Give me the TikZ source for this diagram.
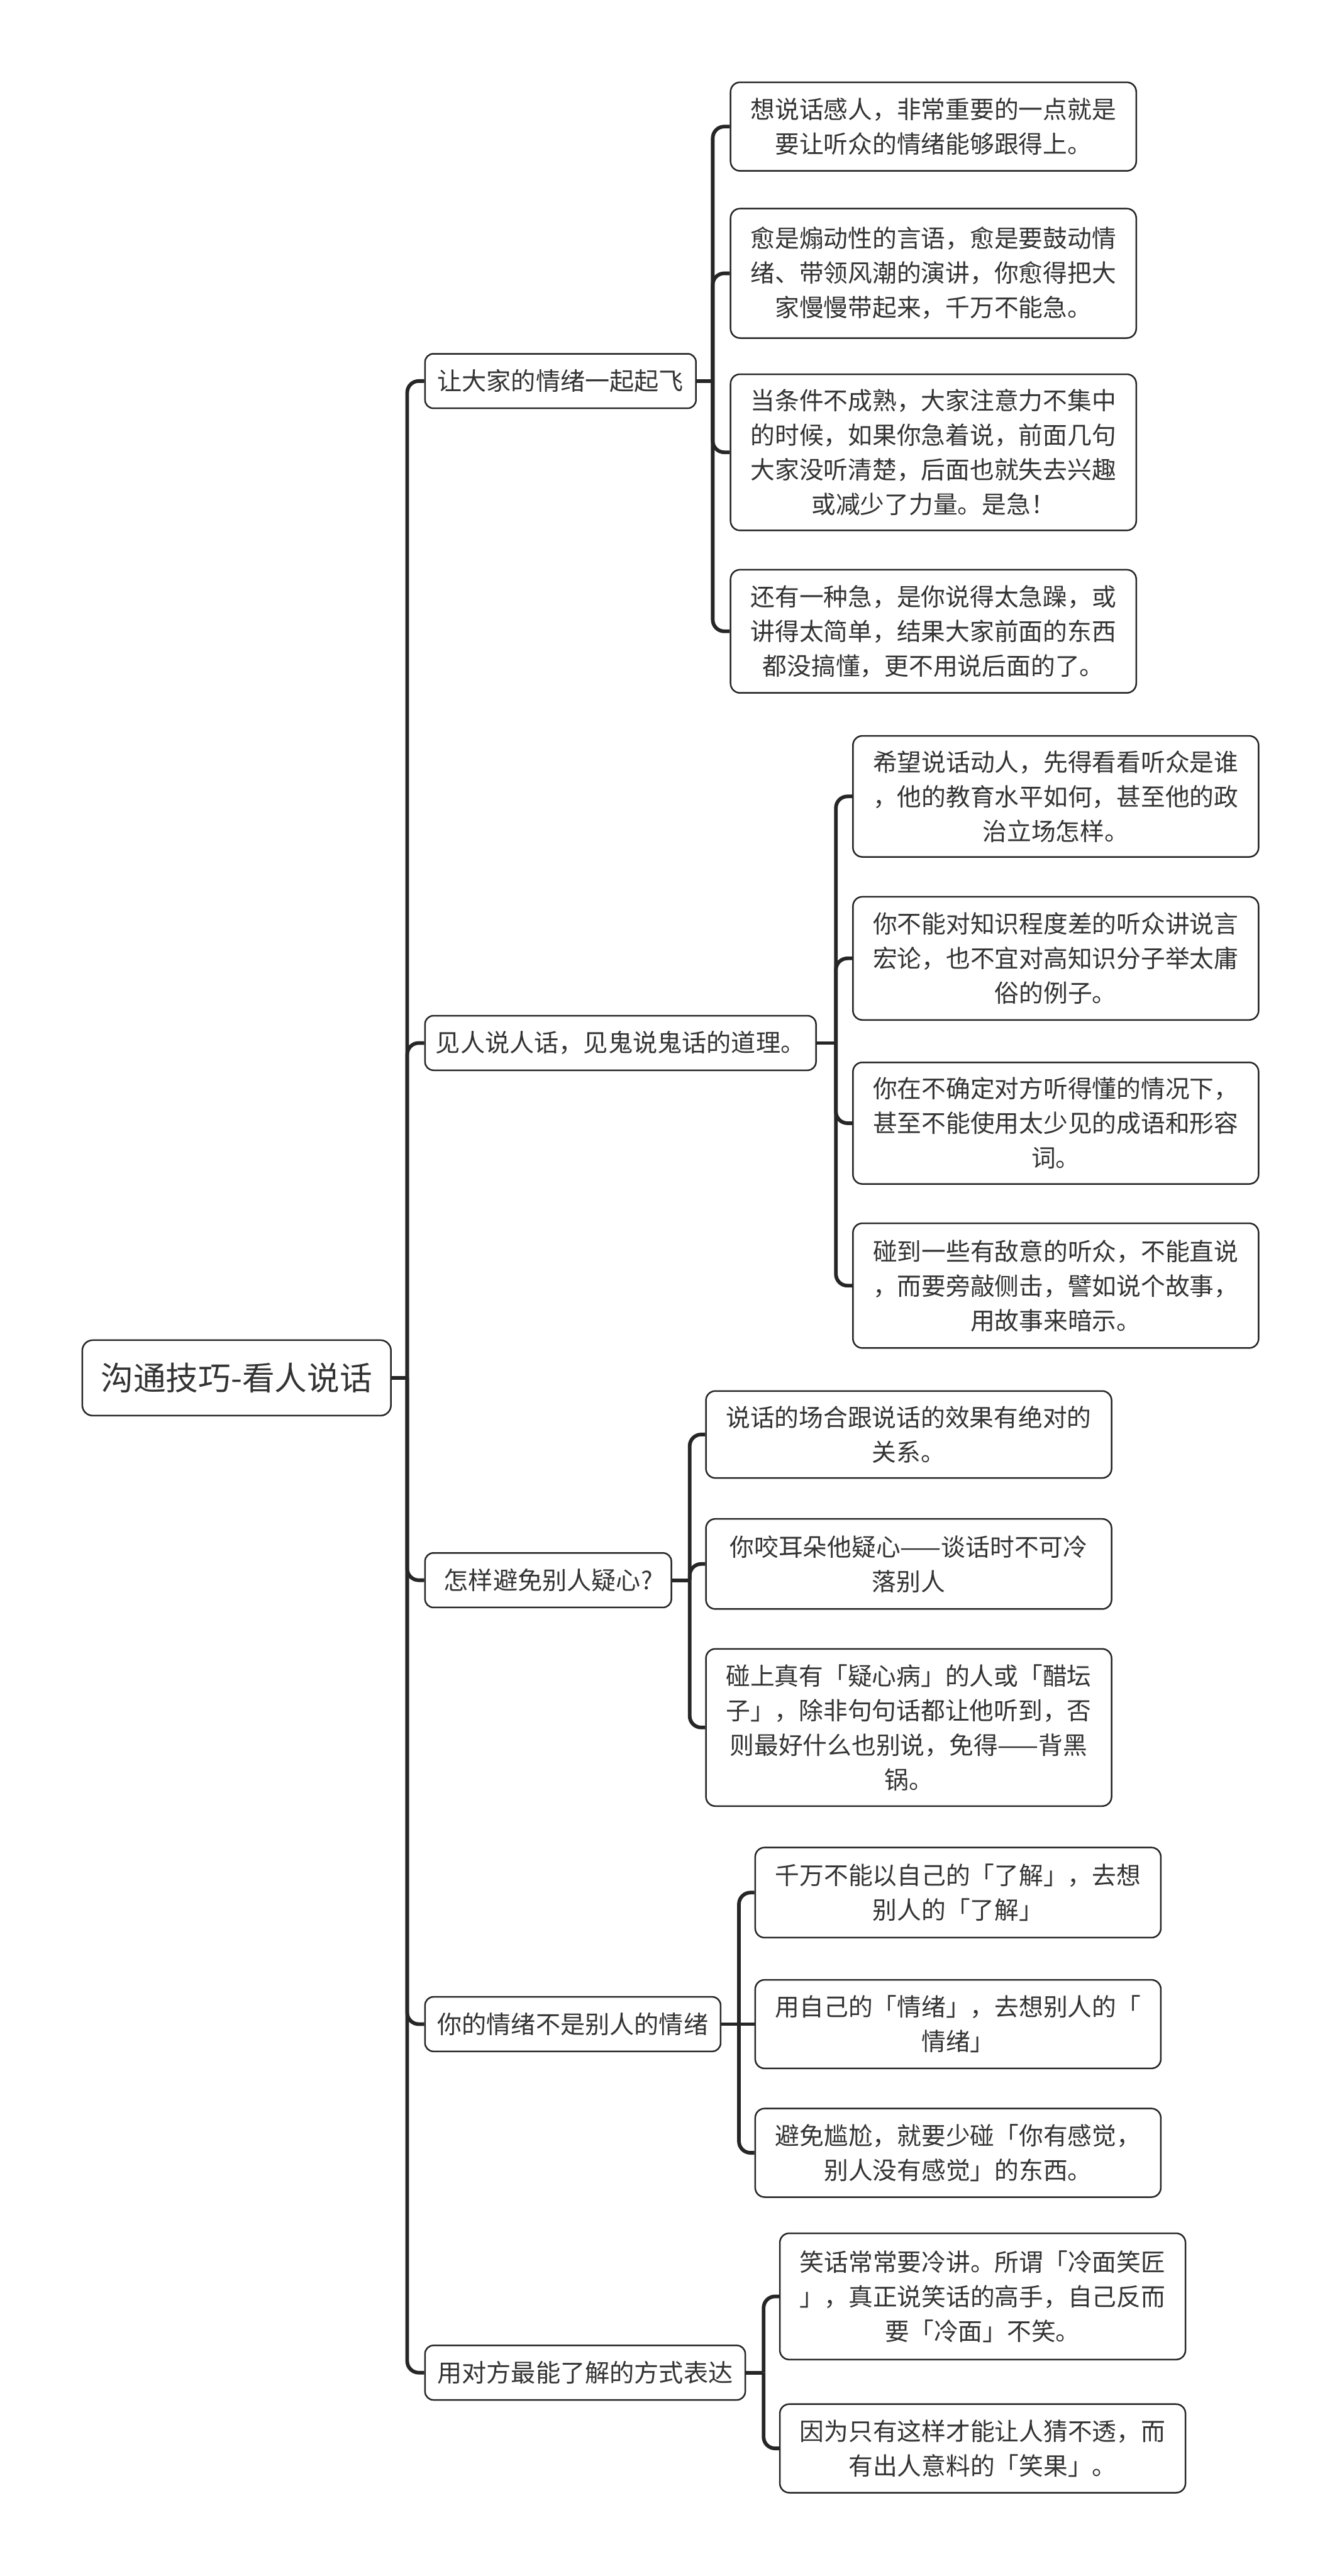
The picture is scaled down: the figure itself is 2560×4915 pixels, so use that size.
\documentclass[tikz,border=0pt]{standalone}
\usepackage{fontspec}
\setmainfont{Noto Sans CJK SC}
\definecolor{ln}{HTML}{333333}
\definecolor{cn}{HTML}{262626}
\begin{document}
\begin{tikzpicture}[x=1pt,y=-1pt,
  conn/.style={draw=cn, line width=7pt, rounded corners=22pt},
  box/.style={draw=cn, fill=white, line width=3pt, text=ln, align=center, inner sep=0pt},
  rootbox/.style={box, rounded corners=20pt, font=\fontsize{62}{74}\selectfont, minimum width=589pt, minimum height=144pt},
  lone/.style={box, rounded corners=16pt, font=\fontsize{47}{60}\selectfont, minimum height=104pt},
  leaf/.style={box, rounded corners=18pt, font=\fontsize{46.5}{66}\selectfont, minimum width=774pt}]
\fill[white] (0,0) rectangle (2560,4915);
\useasboundingbox (0,0) rectangle (2560,4915);

% root and level 1
\node[rootbox] (root) at (451.5,2629) {沟通技巧-看人说话};
\node[lone, minimum width=517pt] (A) at (1069.5,727) {让大家的情绪一起起飞};
\node[lone, minimum width=746pt] (B) at (1184,1990) {见人说人话，见鬼说鬼话的道理。};
\node[lone, minimum width=470pt] (C) at (1046,3015) {怎样避免别人疑心?};
\node[lone, minimum width=564pt] (D) at (1093,3862) {你的情绪不是别人的情绪};
\node[lone, minimum width=611pt] (E) at (1116.5,4527) {用对方最能了解的方式表达};

% group A
\node[leaf, minimum height=169pt] (a1) at (1781,241.5) {想说话感人，非常重要的一点就是\\要让听众的情绪能够跟得上。};
\node[leaf, minimum height=247pt] (a2) at (1781,521.5) {愈是煽动性的言语，愈是要鼓动情\\绪、带领风潮的演讲，你愈得把大\\家慢慢带起来，千万不能急。};
\node[leaf, minimum height=298pt] (a3) at (1781,863) {当条件不成熟，大家注意力不集中\\的时候，如果你急着说，前面几句\\大家没听清楚，后面也就失去兴趣\\或减少了力量。是急！};
\node[leaf, minimum height=235pt] (a4) at (1781,1204.5) {还有一种急，是你说得太急躁，或\\讲得太简单，结果大家前面的东西\\都没搞懂，更不用说后面的了。};

% group B
\node[leaf, minimum height=231pt] (b1) at (2014.5,1519.5) {希望说话动人，先得看看听众是谁\\，他的教育水平如何，甚至他的政\\治立场怎样。};
\node[leaf, minimum height=235pt] (b2) at (2014.5,1828.5) {你不能对知识程度差的听众讲说言\\宏论，也不宜对高知识分子举太庸\\俗的例子。};
\node[leaf, minimum height=232pt] (b3) at (2014.5,2143) {你在不确定对方听得懂的情况下，\\甚至不能使用太少见的成语和形容\\词。};
\node[leaf, minimum height=238pt] (b4) at (2014.5,2453) {碰到一些有敌意的听众，不能直说\\，而要旁敲侧击，譬如说个故事，\\用故事来暗示。};

% group C
\node[leaf, minimum height=166pt] (c1) at (1734,2737) {说话的场合跟说话的效果有绝对的\\关系。};
\node[leaf, minimum height=172pt] (c2) at (1734,2984) {你咬耳朵他疑心——谈话时不可冷\\落别人};
\node[leaf, minimum height=300pt] (c3) at (1734,3296) {碰上真有「疑心病」的人或「醋坛\\子」，除非句句话都让他听到，否\\则最好什么也别说，免得——背黑\\锅。};

% group D
\node[leaf, minimum height=172pt] (d1) at (1828,3611) {千万不能以自己的「了解」，去想\\别人的「了解」};
\node[leaf, minimum height=169pt] (d2) at (1828,3862) {用自己的「情绪」，去想别人的「\\情绪」};
\node[leaf, minimum height=169pt] (d3) at (1828,4107.5) {避免尴尬，就要少碰「你有感觉，\\别人没有感觉」的东西。};

% group E
\node[leaf, minimum height=241pt] (e1) at (1875,4381.5) {笑话常常要冷讲。所谓「冷面笑匠\\」，真正说笑话的高手，自己反而\\要「冷面」不笑。};
\node[leaf, minimum height=169pt] (e2) at (1875,4671.5) {因为只有这样才能让人猜不透，而\\有出人意料的「笑果」。};

% junction coordinates
\coordinate (T) at (777,2629);
\coordinate (Aj) at (1360,727);
\coordinate (Bj) at (1595,1990);
\coordinate (Cj) at (1316,3015);
\coordinate (Dj) at (1410,3862);
\coordinate (Ej) at (1457,4527);

% connectors
\draw[conn] (root.east) -- (T);
\foreach \n in {A,B,C,D,E} \draw[conn] (T) |- (\n.west);

\draw[conn] (A.east) -- (Aj);
\foreach \n in {a1,a2,a3,a4} \draw[conn] (Aj) |- (\n.west);

\draw[conn] (B.east) -- (Bj);
\foreach \n in {b1,b2,b3,b4} \draw[conn] (Bj) |- (\n.west);

\draw[conn] (C.east) -- (Cj);
\foreach \n in {c1,c2,c3} \draw[conn] (Cj) |- (\n.west);

\draw[conn] (D.east) -- (Dj);
\foreach \n in {d1,d3} \draw[conn] (Dj) |- (\n.west);
\draw[conn] (Dj) -- (d2.west);

\draw[conn] (E.east) -- (Ej);
\foreach \n in {e1,e2} \draw[conn] (Ej) |- (\n.west);
\end{tikzpicture}
\end{document}
